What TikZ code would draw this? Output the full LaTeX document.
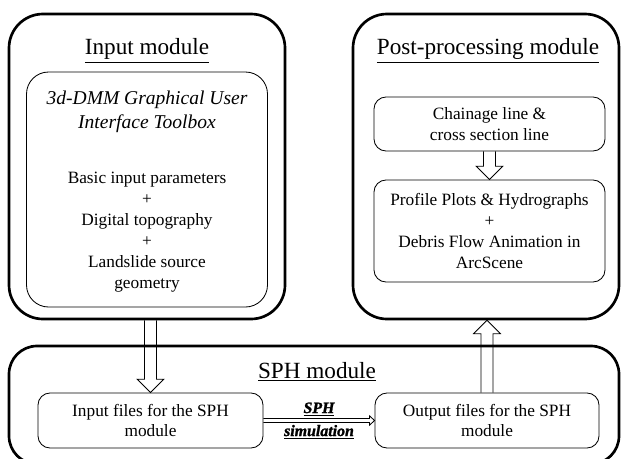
\documentclass[tikz,border=0pt]{standalone}
\usepackage{fontspec}
\setmainfont{Liberation Serif}
\newfontfamily\heavyfont[BoldItalicFeatures={FakeBold=1.5}]{Liberation Serif}
\usetikzlibrary{arrows.meta,positioning,calc}

% hollow block arrow: #1 tail, #2 tip, #3 half shaft, #4 half head, #5 head length
\newcommand{\blockarrow}[5]{%
  \draw[fatline] let \p1=(#1), \p2=(#2), \p3=($(#2)!#5!(#1)$) in
    ($(\p1)!#3!90:(\p2)$) -- ($(\p3)!#3!-90:(\p1)$) -- ($(\p3)!#4!-90:(\p1)$) -- (\p2)
    -- ($(\p3)!#4!90:(\p1)$) -- ($(\p3)!#3!90:(\p1)$) -- ($(\p1)!#3!-90:(\p2)$);}

\begin{document}
\begin{tikzpicture}[every node/.style={align=center, inner sep=0pt},
    module/.style={draw, line width=1.9pt, rounded corners=0.85cm},
    subbox/.style={draw, line width=0.6pt, rounded corners=0.3cm, minimum width=5.775cm},
    modtitle/.style={font=\fontsize{16.5}{19}\selectfont},
    textblock/.style={font=\fontsize{12.3}{14.9}\selectfont},
    simlabel/.style={font=\fontsize{11.3}{13}\selectfont\heavyfont\bfseries\itshape},
    fatline/.style={line width=0.6pt, line join=miter}]

  \useasboundingbox (0,0) rectangle (15.55,-11.45);
  \clip (0,0) rectangle (15.55,-11.45);

  % input module
  \node [module] (inmod) at (3.675,-4.1625) [minimum width=6.9cm, minimum height=7.625cm] {};
  \node [modtitle] (intitle) at (3.675,-1.27) {\underline{Input module}};
  \node [draw, line width=0.6pt, rounded corners=0.55cm] (gui)
    [below of=inmod, node distance=0.575cm, minimum width=6.025cm, minimum height=5.875cm] {};
  \node [font=\fontsize{13.9}{17}\selectfont\itshape] (guititle) at (3.675,-2.8)
    {3d-DMM Graphical User\\Interface Toolbox};
  \node [textblock] (guitext) at (3.675,-5.8)
    {Basic input parameters\\+\\Digital topography\\+\\Landslide source\\geometry};

  % post-processing module
  \node [module] (postmod) [right of=inmod, node distance=8.475cm, minimum width=6.65cm, minimum height=7.625cm] {};
  \node [modtitle] (posttitle) at (12.2,-1.27) {\underline{Post-processing module}};
  \node [subbox, textblock] (chain) at (12.2375,-3.1) [minimum height=1.35cm]
    {Chainage line \&\\cross section line};
  \node [subbox, textblock] (profile) [below of=chain, node distance=2.675cm, minimum height=2.55cm]
    {Profile Plots \& Hydrographs\\+\\Debris Flow Animation in\\ArcScene};

  % SPH module
  \node [module, rounded corners=0.7cm] (sphmod) at (7.85,-10.125) [minimum width=15.25cm, minimum height=2.95cm] {};
  \node [modtitle] (sphtitle) at (7.925,-9.3) {\underline{SPH module}};
  \node [subbox, textblock] (infiles) at (3.7625,-10.5125) [minimum width=5.625cm, minimum height=1.375cm]
    {Input files for the SPH\\module};
  \node [subbox, textblock] (outfiles) [right of=infiles, node distance=8.4125cm, minimum width=5.6cm, minimum height=1.375cm]
    {Output files for the SPH\\module};

  \blockarrow{infiles.east}{outfiles.west}{1.4pt}{3.3pt}{3.6pt}
  \path (infiles) -- node [above=3pt, simlabel] {\underline{SPH}}
    node [below=3pt, simlabel] {\underline{simulation}} (outfiles);

  \blockarrow{infiles.north |- inmod.south}{infiles.north}{4.3pt}{9.5pt}{9.5pt}
  \blockarrow{chain.south}{profile.north}{4.3pt}{9.5pt}{9.5pt}
  \blockarrow{outfiles.north}{outfiles.north |- postmod.south}{4.3pt}{9.5pt}{9.5pt}

\end{tikzpicture}
\end{document}
